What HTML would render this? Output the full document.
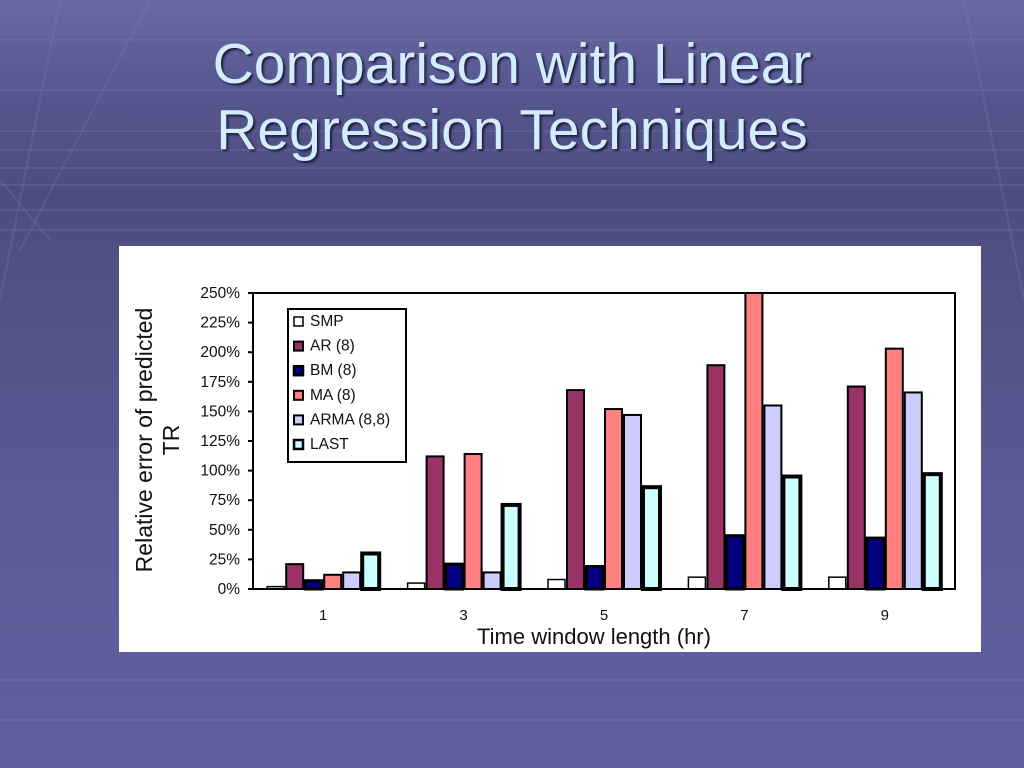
<!DOCTYPE html>
<html><head><meta charset="utf-8">
<style>
html,body{margin:0;padding:0}
body{width:1024px;height:768px;overflow:hidden;position:relative;font-family:"Liberation Sans",Arial,sans-serif;
background:linear-gradient(180deg,#6a6aa2 0%,#575790 12%,#4c4c7e 25%,#54548a 45%,#5c5c98 70%,#6060a0 100%);}
#title{position:absolute;left:0;top:31px;width:1024px;text-align:center;color:#d4ecff;font-size:57px;line-height:66px;text-shadow:2px 2px 2px #1e1e40;}
#chartbox{position:absolute;left:119px;top:246px;width:862px;height:406px;background:#fff;}
svg text{font-family:"Liberation Sans",Arial,sans-serif;fill:#111;}
</style></head>
<body>
<svg width="1024" height="768" style="position:absolute;left:0;top:0">
<g stroke="#8080b4" stroke-opacity="0.25" stroke-width="2">
<line x1="0" y1="40" x2="1024" y2="40"/><line x1="0" y1="90" x2="1024" y2="90"/>
<line x1="0" y1="131" x2="1024" y2="131"/><line x1="0" y1="150" x2="1024" y2="150"/>
<line x1="0" y1="168" x2="1024" y2="168"/><line x1="0" y1="185" x2="1024" y2="185"/>
<line x1="0" y1="210" x2="1024" y2="210"/><line x1="0" y1="230" x2="1024" y2="230"/>
<line x1="0" y1="680" x2="1024" y2="680"/><line x1="0" y1="720" x2="1024" y2="720"/>
<line x1="60" y1="0" x2="0" y2="300"/><line x1="150" y1="0" x2="20" y2="250"/>
<line x1="0" y1="180" x2="50" y2="240"/><line x1="964" y1="0" x2="1024" y2="300"/>
</g></svg>
<div id="title">Comparison with Linear<br>Regression Techniques</div>
<div id="chartbox"></div>
<svg id="chart" width="1024" height="768" style="position:absolute;left:0;top:0"></svg>
<script>
const categories=["1","3","5","7","9"];
const seriesNames=["SMP","AR (8)","BM (8)","MA (8)","ARMA (8,8)","LAST"];
const smp=[2,5,8,10,10];
const ar=[21,112,168,189,171];
const bm=[7,21,19,45,43];
const ma=[12,114,152,250,203];
const arma=[14,14,147,155,166];
const last=[30,71,86,95,97];
const yTicks=[0,25,50,75,100,125,150,175,200,225,250];
const allSeries=[smp,ar,bm,ma,arma,last];
const fills=["#ffffff","#993366","#000080","#ff8080","#ccccff","#ccffff"];
const strokeW=[1.5,2,3,2,2,4];

const NS="http://www.w3.org/2000/svg";
const svg=document.getElementById('chart');
const X0=253,X1=955,Y0=589,Y1=293,YMAX=250;
const y=v=>Y0-(v/YMAX)*(Y0-Y1);
const groupW=(X1-X0)/categories.length;
const xc=i=>X0+groupW*(i+0.5);
const barW=17,pitch=19;
function el(t,a,p){const e=document.createElementNS(NS,t);for(const k in a)e.setAttribute(k,a[k]);(p||svg).appendChild(e);return e;}

categories.forEach((c,i)=>{
  allSeries.forEach((s,j)=>{
    const v=Math.min(s[i],YMAX);
    const bx=xc(i)-3*pitch+j*pitch+1;
    const r=el('rect',{x:bx,y:y(v),width:barW,height:Y0-y(v),fill:fills[j],stroke:'#000','stroke-width':strokeW[j]});
    
    
  });
  const t=el('text',{x:xc(i),y:620,'font-size':15,'text-anchor':'middle'});t.textContent=c;
  
  
});
const frame=el('rect',{x:X0,y:Y1,width:X1-X0,height:Y0-Y1,fill:'none',stroke:'#000','stroke-width':2});


yTicks.forEach(v=>{
  el('line',{x1:X0-5,x2:X0,y1:y(v),y2:y(v),stroke:'#000','stroke-width':2});
  const t=el('text',{x:240,y:y(v)+5,'font-size':15.5,'text-anchor':'end',fill:'#333'});t.textContent=v+'%';
  
  
});
const xt=el('text',{x:594,y:644,'font-size':22,'text-anchor':'middle'});xt.textContent='Time window length (hr)';


const yt=el('text',{transform:'translate(152,440) rotate(-90)','font-size':23,'text-anchor':'middle'});


const ts1=el('tspan',{x:0,y:0},yt);ts1.textContent='Relative error of predicted';
const ts2=el('tspan',{x:0,y:27},yt);ts2.textContent='TR';
const lg=el('g',{});


el('rect',{x:288,y:309,width:118,height:153,fill:'#fff',stroke:'#000','stroke-width':2},lg);
seriesNames.forEach((n,j)=>{
  const yy=321+j*24.6;
  el('rect',{x:294,y:yy-4,width:9,height:9,fill:fills[j],stroke:'#000','stroke-width':Math.min(strokeW[j],2.5)},lg);
  const t=el('text',{x:310,y:yy+5,'font-size':15.5,fill:'#333'},lg);t.textContent=n;
  
  
});
</script>
</body></html>
